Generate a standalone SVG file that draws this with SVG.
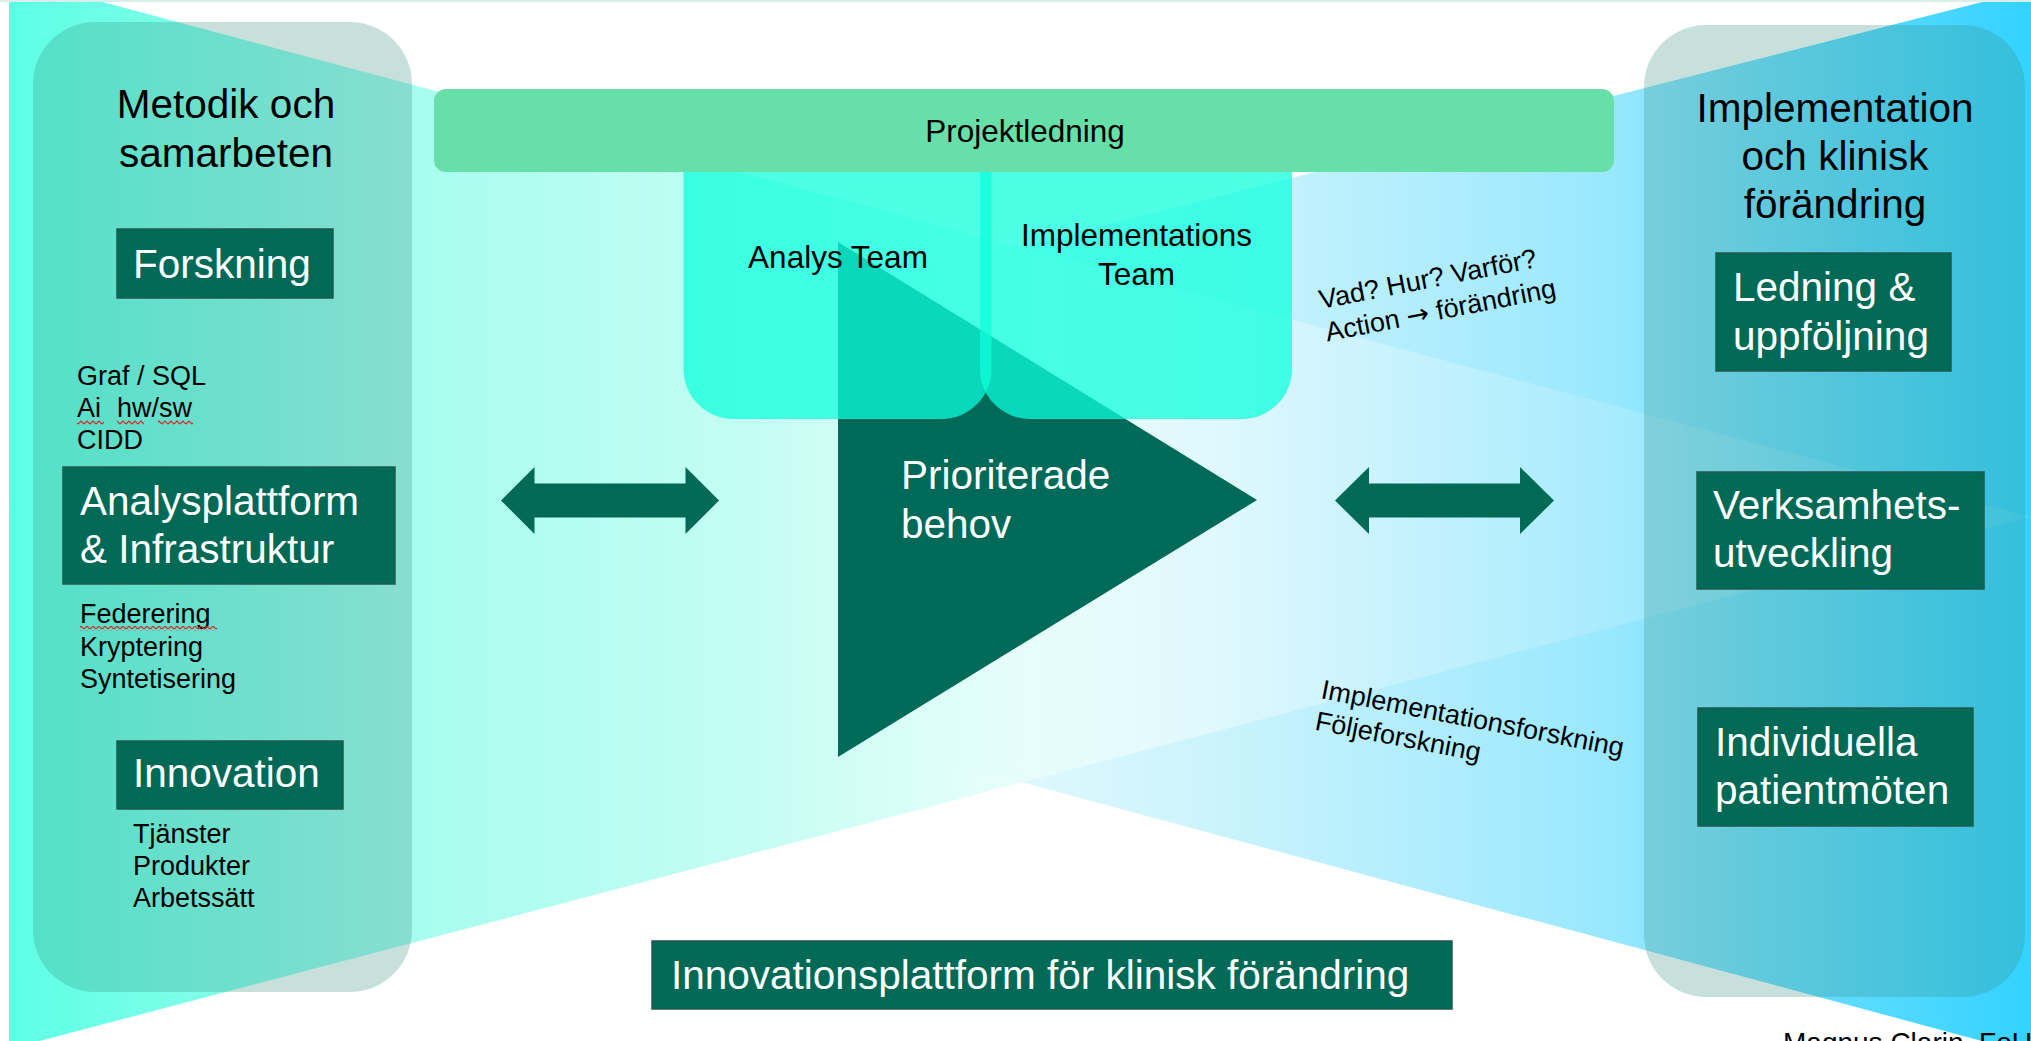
<svg xmlns="http://www.w3.org/2000/svg" width="2031" height="1041" viewBox="0 0 2031 1041">
  <defs>
    <linearGradient id="gRight" gradientUnits="userSpaceOnUse" x1="0" y1="0" x2="2031" y2="0">
      <stop offset="0" stop-color="#FFFFFF"/>
      <stop offset="0.45" stop-color="#E8FAFE"/>
      <stop offset="0.59" stop-color="#CDF4FC"/>
      <stop offset="0.655" stop-color="#BDF0FD"/>
      <stop offset="0.79" stop-color="#9AE8FE"/>
      <stop offset="0.906" stop-color="#5EDCFF"/>
      <stop offset="1" stop-color="#33D2FF"/>
    </linearGradient>
    <linearGradient id="gLeft" gradientUnits="userSpaceOnUse" x1="9" y1="0" x2="2031" y2="0">
      <stop offset="0" stop-color="#5CFFE5"/>
      <stop offset="0.208" stop-color="#A9FDEF"/>
      <stop offset="0.362" stop-color="#C3FDF3"/>
      <stop offset="0.44" stop-color="#D8FEF8"/>
      <stop offset="0.49" stop-color="#E4FEFA" stop-opacity="0.9"/>
      <stop offset="0.54" stop-color="#F0FFFC" stop-opacity="0.6"/>
      <stop offset="0.64" stop-color="#FFFFFF" stop-opacity="0.3"/>
      <stop offset="0.77" stop-color="#FFFFFF" stop-opacity="0.16"/>
      <stop offset="1" stop-color="#FFFFFF" stop-opacity="0.08"/>
    </linearGradient>
    <pattern id="squig" patternUnits="userSpaceOnUse" width="6" height="5">
      <path d="M0,4 L3,1 L6,4" fill="none" stroke="#E02020" stroke-width="1.2"/>
    </pattern>
    <style>
      .panel { fill:#328C7D; fill-opacity:0.27; }
      .box { fill:#006A57; stroke:#1F5A4D; stroke-width:1.5; }
      .team { fill:#0EFFDC; fill-opacity:0.74; }
      .t { font-family:"Liberation Sans", Arial, Helvetica, sans-serif; }
      .lg { font-size:40.5px; }
      .md { font-size:31.5px; }
      .sm { font-size:27px; }
      .w { fill:#FFFFFF; }
      .k { fill:#000000; }
      .arrow { fill:#006A57; }
    </style>
  </defs>

  <rect x="0" y="0" width="2031" height="1041" fill="#FFFFFF"/>

  <!-- background wedges -->
  <g id="background">
    <polygon points="0,507 2045,-14 2045,1058" fill="url(#gRight)"/>
    <polygon points="9,-23 2031,517 9,1049" fill="url(#gLeft)"/>
    <line x1="0" y1="1" x2="2031" y2="1" stroke="#D9EEEB" stroke-width="2"/>
  </g>

  <!-- side panels -->
  <g id="panel-left">
    <rect class="panel" x="33" y="22" width="379" height="970" rx="62"/>
    <text class="t lg k" x="226" y="118" text-anchor="middle">Metodik och</text>
    <text class="t lg k" x="226" y="167" text-anchor="middle">samarbeten</text>
  </g>
  <g id="panel-right">
    <rect class="panel" x="1644" y="25" width="381" height="972" rx="62"/>
    <text class="t lg k" x="1835" y="122" text-anchor="middle">Implementation</text>
    <text class="t lg k" x="1835" y="170" text-anchor="middle">och klinisk</text>
    <text class="t lg k" x="1835" y="218" text-anchor="middle">förändring</text>
  </g>

  <!-- central triangle -->
  <g id="prioriterade-behov">
    <polygon points="838,242 1257,500 838,757" fill="#006A58"/>
  </g>

  <!-- team boxes -->
  <g id="analys-team">
    <path class="team" d="M683.5,150 H991.5 V369 A50,50 0 0 1 941.5,419 H733.5 A50,50 0 0 1 683.5,369 Z"/>
    <text class="t md k" x="838" y="268" text-anchor="middle">Analys Team</text>
  </g>
  <g id="implementations-team">
    <path class="team" d="M980,150 H1292 V369 A50,50 0 0 1 1242,419 H1030 A50,50 0 0 1 980,369 Z"/>
    <text class="t md k" x="1136.5" y="246" text-anchor="middle">Implementations</text>
    <text class="t md k" x="1136.5" y="285" text-anchor="middle">Team</text>
  </g>
  <g id="prioriterade-label">
    <text class="t lg w" x="901" y="489">Prioriterade</text>
    <text class="t lg w" x="901" y="538">behov</text>
  </g>

  <!-- project management bar -->
  <g id="projektledning">
    <rect x="434" y="89" width="1180" height="83" rx="12" fill="#66E0A8"/>
    <text class="t md k" x="1025" y="142" text-anchor="middle">Projektledning</text>
  </g>

  <!-- left column nodes -->
  <g id="forskning">
    <rect class="box" x="117" y="229" width="216" height="69"/>
    <text class="t lg w" x="133" y="278">Forskning</text>
  </g>
  <g id="analys-notes">
    <text class="t sm k" x="77" y="385">Graf / SQL</text>
    <text class="t sm k" y="417"><tspan x="77">Ai</tspan><tspan x="117">hw/sw</tspan></text>
    <text class="t sm k" x="77" y="449">CIDD</text>
    <rect x="77" y="420" width="27" height="5" fill="url(#squig)"/>
    <rect x="117" y="420" width="27" height="5" fill="url(#squig)"/>
    <rect x="158" y="420" width="35" height="5" fill="url(#squig)"/>
  </g>
  <g id="analysplattform">
    <rect class="box" x="63" y="467" width="332" height="117"/>
    <text class="t lg w" x="80" y="515">Analysplattform</text>
    <text class="t lg w" x="80" y="563">&amp; Infrastruktur</text>
  </g>
  <g id="infra-notes">
    <text class="t sm k" x="80" y="623">Federering</text>
    <text class="t sm k" x="80" y="656">Kryptering</text>
    <text class="t sm k" x="80" y="688">Syntetisering</text>
    <rect x="80" y="626" width="137" height="5" fill="url(#squig)"/>
  </g>
  <g id="innovation">
    <rect class="box" x="117" y="741" width="226" height="68"/>
    <text class="t lg w" x="133" y="787">Innovation</text>
  </g>
  <g id="innovation-notes">
    <text class="t sm k" x="133" y="843">Tjänster</text>
    <text class="t sm k" x="133" y="875">Produkter</text>
    <text class="t sm k" x="133" y="907">Arbetssätt</text>
  </g>

  <!-- right column nodes -->
  <g id="ledning">
    <rect class="box" x="1716" y="253" width="235" height="118"/>
    <text class="t lg w" x="1733" y="301">Ledning &amp;</text>
    <text class="t lg w" x="1733" y="350">uppföljning</text>
  </g>
  <g id="verksamhetsutveckling">
    <rect class="box" x="1697" y="472" width="287" height="117"/>
    <text class="t lg w" x="1713" y="519">Verksamhets-</text>
    <text class="t lg w" x="1713" y="567">utveckling</text>
  </g>
  <g id="patientmoten">
    <rect class="box" x="1698" y="708" width="275" height="118"/>
    <text class="t lg w" x="1715" y="756">Individuella</text>
    <text class="t lg w" x="1715" y="804">patientmöten</text>
  </g>

  <!-- rotated annotations -->
  <g id="vad-hur" transform="translate(1321,309) rotate(-11)">
    <text class="t sm k" x="0" y="0">Vad? Hur? Varför?</text>
    <text class="t sm k" x="0" y="33">Action <tspan font-family="'DejaVu Sans', sans-serif">→</tspan> förändring</text>
  </g>
  <g id="forskning-notes" transform="translate(1320,698) rotate(11)">
    <text class="t sm k" x="0" y="0">Implementationsforskning</text>
    <text class="t sm k" x="0" y="32">Följeforskning</text>
  </g>

  <!-- bottom platform -->
  <g id="innovationsplattform">
    <rect class="box" x="652" y="941" width="800" height="68"/>
    <text class="t lg w" x="671" y="989">Innovationsplattform för klinisk förändring</text>
  </g>

  <g id="credit">
    <text class="t k" x="1783" y="1052" font-size="28">Magnus Clarin, FoU</text>
  </g>

  <!-- connectors -->
  <g id="connectors">
    <polygon class="arrow" points="501,500.5 534.5,467 534.5,483.5 685.5,483.5 685.5,467 719,500.5 685.5,534 685.5,517.5 534.5,517.5 534.5,534"/>
    <polygon class="arrow" points="1335,500.5 1369,467 1369,483.5 1520,483.5 1520,467 1554,500.5 1520,534 1520,517.5 1369,517.5 1369,534"/>
  </g>
</svg>
